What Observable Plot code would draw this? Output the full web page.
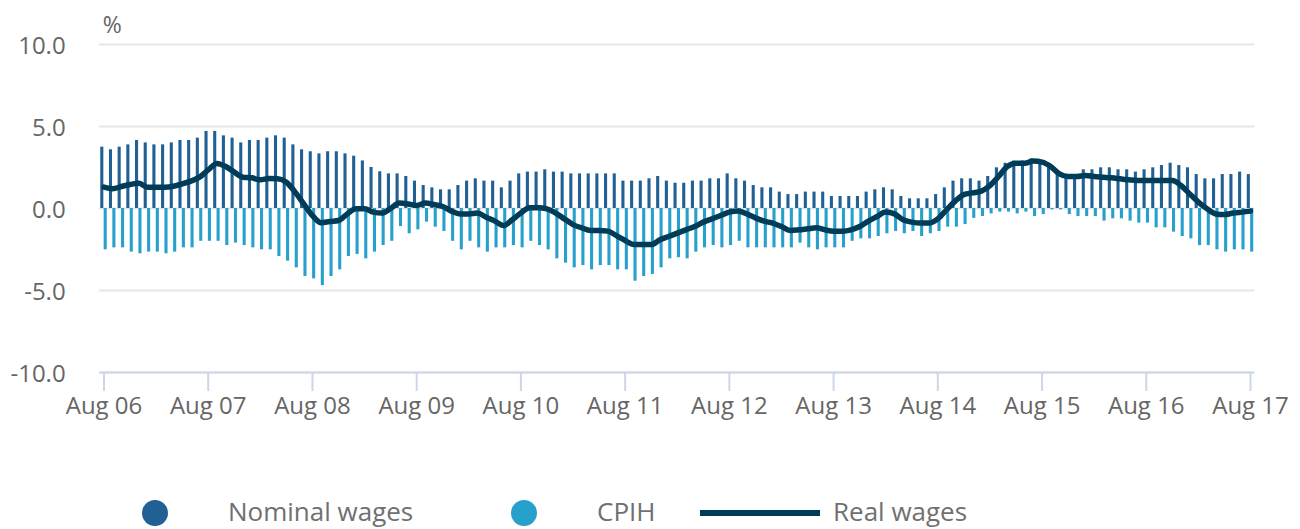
<!DOCTYPE html>
<html><head><meta charset="utf-8">
<script src="https://cdn.jsdelivr.net/npm/d3@7"></script>
<script src="https://cdn.jsdelivr.net/npm/@observablehq/plot@0.6"></script>
<style>
body{margin:0;background:#fff;font-family:"Open Sans",sans-serif;}
#chart{width:1300px;height:450px;}
#legend{position:relative;height:79px;width:1300px;}
.dot{position:absolute;width:26px;height:26px;border-radius:50%;top:50px;}
.lt{position:absolute;font-size:26px;line-height:26px;color:#707070;top:48px;white-space:nowrap;}
.ln{position:absolute;height:6px;width:120px;background:#003c57;top:60px;left:700px;}
</style></head><body>
<div id="chart"></div>
<div id="legend">
  <div class="dot" style="left:142px;background:#206095"></div>
  <div class="lt" style="left:228px">Nominal wages</div>
  <div class="dot" style="left:511px;background:#27a0cc"></div>
  <div class="lt" style="left:597px">CPIH</div>
  <div class="ln"></div>
  <div class="lt" style="left:833px">Real wages</div>
</div>
<script>
const months = d3.utcMonth.range(new Date(Date.UTC(2006,7,1)), new Date(Date.UTC(2017,8,1))).map(d3.utcFormat("%b %y"));
const tickLabels = ["Aug 06","Aug 07","Aug 08","Aug 09","Aug 10","Aug 11","Aug 12","Aug 13","Aug 14","Aug 15","Aug 16","Aug 17"];
const yTicks = [-10, -5, 0, 5, 10];

const nominal = [
 3.74,3.58,3.74,3.88,4.15,4.0,3.88,3.88,4.0,4.15,
 4.15,4.29,4.7,4.7,4.43,4.29,4.0,4.15,4.15,4.29,
 4.43,4.29,3.88,3.58,3.46,3.33,3.46,3.46,3.33,3.19,
 2.9,2.5,2.24,2.11,2.11,1.95,1.67,1.4,1.26,1.14,
 1.14,1.4,1.67,1.81,1.67,1.67,1.26,1.67,2.11,2.22,
 2.22,2.36,2.22,2.22,2.11,2.11,2.11,2.11,2.11,2.11,
 1.67,1.67,1.67,1.81,1.95,1.67,1.54,1.54,1.67,1.67,
 1.81,1.81,2.11,1.81,1.67,1.4,1.26,1.26,1.0,0.85,
 0.85,1.0,1.0,1.0,0.73,0.73,0.73,0.73,1.0,1.14,
 1.26,1.14,0.73,0.59,0.59,0.59,0.85,1.26,1.67,1.81,
 1.81,1.67,1.95,2.48,2.76,2.89,2.89,3.03,2.76,2.48,
 2.07,1.95,1.95,2.36,2.36,2.48,2.48,2.36,2.36,2.22,
 2.36,2.48,2.62,2.76,2.62,2.48,2.07,1.81,1.81,2.07,
 2.07,2.22,2.07
];
const cpih = [
 -2.52,-2.4,-2.4,-2.66,-2.76,-2.66,-2.66,-2.76,-2.66,-2.4,
 -2.4,-2.0,-2.0,-2.0,-2.26,-2.11,-2.26,-2.4,-2.52,-2.52,
 -2.93,-3.21,-3.62,-4.15,-4.29,-4.7,-4.15,-3.74,-2.93,-2.8,
 -3.07,-2.66,-2.26,-2.0,-1.1,-1.54,-1.3,-0.83,-1.14,-1.4,
 -2.0,-2.52,-2.0,-2.4,-2.66,-2.4,-2.4,-2.26,-2.4,-2.0,
 -2.26,-2.52,-3.07,-3.33,-3.62,-3.48,-3.74,-3.48,-3.48,-3.74,
 -3.74,-4.43,-4.15,-4.02,-3.62,-3.07,-3.0,-3.07,-2.66,-2.4,
 -2.26,-2.4,-2.26,-2.0,-2.4,-2.4,-2.4,-2.4,-2.4,-2.4,
 -2.11,-2.4,-2.52,-2.4,-2.4,-2.4,-2.0,-1.85,-1.85,-1.71,
 -1.54,-1.4,-1.54,-1.4,-1.71,-1.54,-1.4,-1.14,-1.14,-0.98,
 -0.6,-0.49,-0.33,-0.22,-0.22,-0.33,-0.22,-0.49,-0.37,-0.08,
 -0.08,-0.37,-0.49,-0.49,-0.49,-0.77,-0.63,-0.63,-0.77,-0.89,
 -0.89,-1.18,-1.18,-1.44,-1.71,-1.85,-2.26,-2.26,-2.52,-2.66,
 -2.52,-2.52,-2.66
];
const real = [
 1.3,1.2,1.34,1.46,1.54,1.3,1.3,1.3,1.36,1.5,
 1.67,1.91,2.35,2.75,2.56,2.22,1.91,1.87,1.75,1.83,
 1.81,1.6,1.0,0.28,-0.43,-0.87,-0.79,-0.73,-0.33,-0.02,
 -0.02,-0.22,-0.28,0.0,0.33,0.28,0.18,0.33,0.24,0.12,
 -0.16,-0.33,-0.33,-0.28,-0.53,-0.77,-1.04,-0.69,-0.28,0.04,
 0.04,-0.02,-0.28,-0.63,-0.98,-1.18,-1.34,-1.34,-1.38,-1.65,
 -1.95,-2.2,-2.2,-2.2,-1.91,-1.71,-1.5,-1.3,-1.1,-0.83,
 -0.63,-0.43,-0.22,-0.16,-0.33,-0.57,-0.77,-0.89,-1.1,-1.34,
 -1.3,-1.24,-1.18,-1.3,-1.38,-1.38,-1.3,-1.1,-0.77,-0.49,
 -0.22,-0.33,-0.69,-0.83,-0.89,-0.89,-0.63,-0.08,0.45,0.85,
 0.95,1.06,1.4,1.95,2.56,2.76,2.76,2.89,2.83,2.56,
 2.11,1.95,1.95,2.01,1.95,1.91,1.87,1.81,1.75,1.71,
 1.71,1.71,1.71,1.71,1.4,0.89,0.39,-0.02,-0.33,-0.37,
 -0.28,-0.22,-0.16
];

const rows = months.map((m, i) => ({month: m, nominal: nominal[i], cpih: cpih[i], real: real[i]}));

const firstX = 103.5, lastX = 1250, W = 1300;
const step = (lastX - firstX) / (months.length - 1);

const chart = Plot.plot({
  width: W,
  height: 450,
  marginLeft: firstX - step / 2,
  marginRight: W - (lastX + step / 2),
  marginTop: 44,
  marginBottom: 78,
  style: {fontFamily: '"Open Sans", sans-serif', fontSize: "24px", color: "#666", background: "#fff", overflow: "visible"},
  x: {type: "band", domain: months, padding: 0, label: null},
  y: {domain: [-10, 10], label: null},
  marks: [
    Plot.gridY(yTicks, {stroke: "#e6e6e6", strokeOpacity: 1, strokeWidth: 2}),
    Plot.barY(rows, {x: "month", y: "nominal", fill: "#206095", insetLeft: 1.1, insetRight: 4.5}),
    Plot.barY(rows, {x: "month", y: "cpih", fill: "#27a0cc", insetLeft: 4.5, insetRight: 1.1}),
    Plot.lineY(rows, {x: "month", y: "real", stroke: "#003c57", strokeWidth: 5.5, curve: "monotone-x", strokeLinejoin: "round"}),
    Plot.ruleY([-10], {stroke: "#ccd6eb", strokeWidth: 2}),
    Plot.axisX({ticks: tickLabels, tickSize: 19, tickPadding: 5, stroke: "#ccd6eb", strokeWidth: 2, strokeOpacity: 1, fontSize: 24, label: null}),
    Plot.axisY(yTicks, {tickSize: 0, tickPadding: 34, tickFormat: d => d.toFixed(1), fontSize: 24, dy: 2, label: null}),
    Plot.text(["%"], {frameAnchor: "top-left", dx: 3, dy: -19, lineAnchor: "middle", textAnchor: "start", fontSize: 23, fill: "#666"})
  ]
});
document.getElementById("chart").appendChild(chart);
</script>
</body></html>
